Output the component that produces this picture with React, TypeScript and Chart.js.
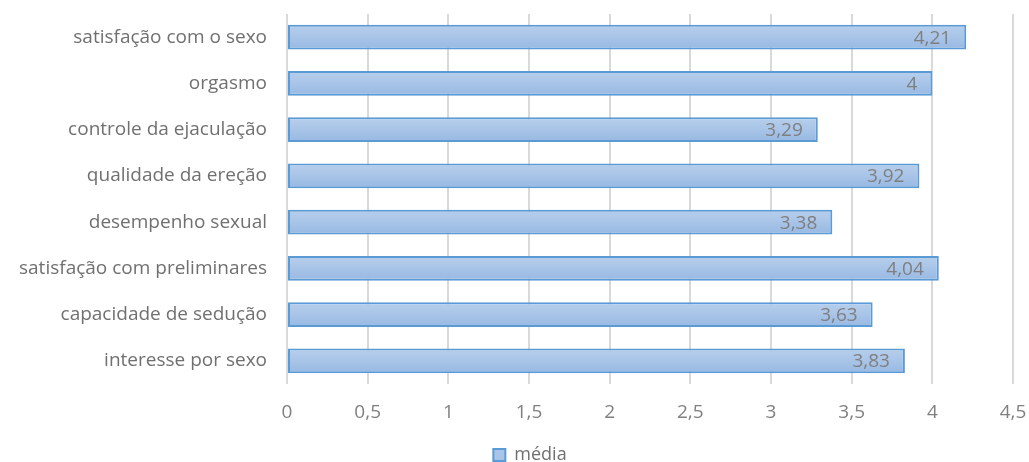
import React, { useEffect, useRef } from "react";
import { Chart, registerables } from "chart.js";

Chart.register(...registerables);

const categories = [
  "satisfação com o sexo",
  "orgasmo",
  "controle da ejaculação",
  "qualidade da ereção",
  "desempenho sexual",
  "satisfação com preliminares",
  "capacidade de sedução",
  "interesse por sexo",
];
const seriesName = "média";
const values = [4.21, 4, 3.29, 3.92, 3.38, 4.04, 3.63, 3.83];
const axisMin = 0;
const axisMax = 4.5;
const axisStep = 0.5;

const FONT = "'Open Sans', 'DejaVu Sans', sans-serif";
const fmt = (v: number) => String(v).replace(".", ",");

const gradientPlugin = {
  id: "barGradient",
  beforeDatasetsDraw(chart: any) {
    const ctx = chart.ctx;
    chart.data.datasets.forEach((_: any, di: number) => {
      const meta = chart.getDatasetMeta(di);
      meta.data.forEach((el: any) => {
        const h = el.height;
        const top = el.y - h / 2;
        const g = ctx.createLinearGradient(0, top, 0, top + h);
        g.addColorStop(0, "#b8cfec");
        g.addColorStop(1, "#98b9e3");
        el.options = { ...el.options, backgroundColor: g };
      });
    });
  },
};

const labelPlugin = {
  id: "valueLabels",
  afterDatasetsDraw(chart: any) {
    const ctx = chart.ctx;
    ctx.save();
    ctx.font = `19px ${FONT}`;
    ctx.fillStyle = "#7f7f7f";
    ctx.textAlign = "right";
    ctx.textBaseline = "middle";
    chart.data.datasets.forEach((ds: any, di: number) => {
      const meta = chart.getDatasetMeta(di);
      meta.data.forEach((el: any, i: number) => {
        ctx.fillText(fmt(ds.data[i]), el.x - 15, el.y + 1);
      });
    });
    ctx.restore();
  },
};

const legendShift = {
  id: "legendShift",
  afterLayout(chart: any) {
    const l = chart.legend;
    if (l) l.left += 47;
  },
};

export default function App() {
  const ref = useRef<HTMLCanvasElement | null>(null);
  useEffect(() => {
    document.body.style.margin = "0";
    const chart = new Chart(ref.current as HTMLCanvasElement, {
      type: "bar",
      data: {
        labels: categories,
        datasets: [
          {
            label: seriesName,
            data: values,
            backgroundColor: "#a8c4e8",
            borderColor: "#5b9bd5",
            borderWidth: 2,
            borderSkipped: false,
            barPercentage: 0.53,
            categoryPercentage: 1,
          },
        ],
      },
      options: {
        indexAxis: "y",
        animation: false,
        responsive: true,
        maintainAspectRatio: false,
        layout: { padding: { left: 0, right: 16, top: 14, bottom: -12 } },
        plugins: {
          tooltip: { enabled: false },
          legend: {
            position: "bottom",
            labels: {
              boxWidth: 12,
              boxHeight: 12,
              padding: 8,
              color: "#707070",
              font: { family: FONT, size: 18 },
            },
          },
        },
        scales: {
          x: {
            min: axisMin,
            max: axisMax,
            ticks: {
              stepSize: axisStep,
              color: "#808080",
              font: { family: FONT, size: 19 },
              padding: 17,
              callback: (v: any) => fmt(Number(v)),
            },
            grid: { color: "#d9d9d9", lineWidth: 2, drawTicks: false },
            border: { display: false },
            afterFit: (s: any) => {
              s.height = 54;
              s.paddingLeft = 0;
              s.paddingRight = 0;
            },
          },
          y: {
            ticks: {
              color: "#707070",
              font: { family: FONT, size: 19 },
              padding: 20,
            },
            grid: { display: false, drawTicks: false },
            border: { display: false },
            afterFit: (s: any) => {
              s.width = 287;
              s.paddingTop = 0;
              s.paddingBottom = 0;
            },
          },
        },
      },
      plugins: [gradientPlugin, labelPlugin, legendShift],
    });
    return () => chart.destroy();
  }, []);
  return (
    <div style={{ position: "absolute", left: 0, top: 0, width: 1029, height: 462 }}>
      <canvas ref={ref} />
    </div>
  );
}
